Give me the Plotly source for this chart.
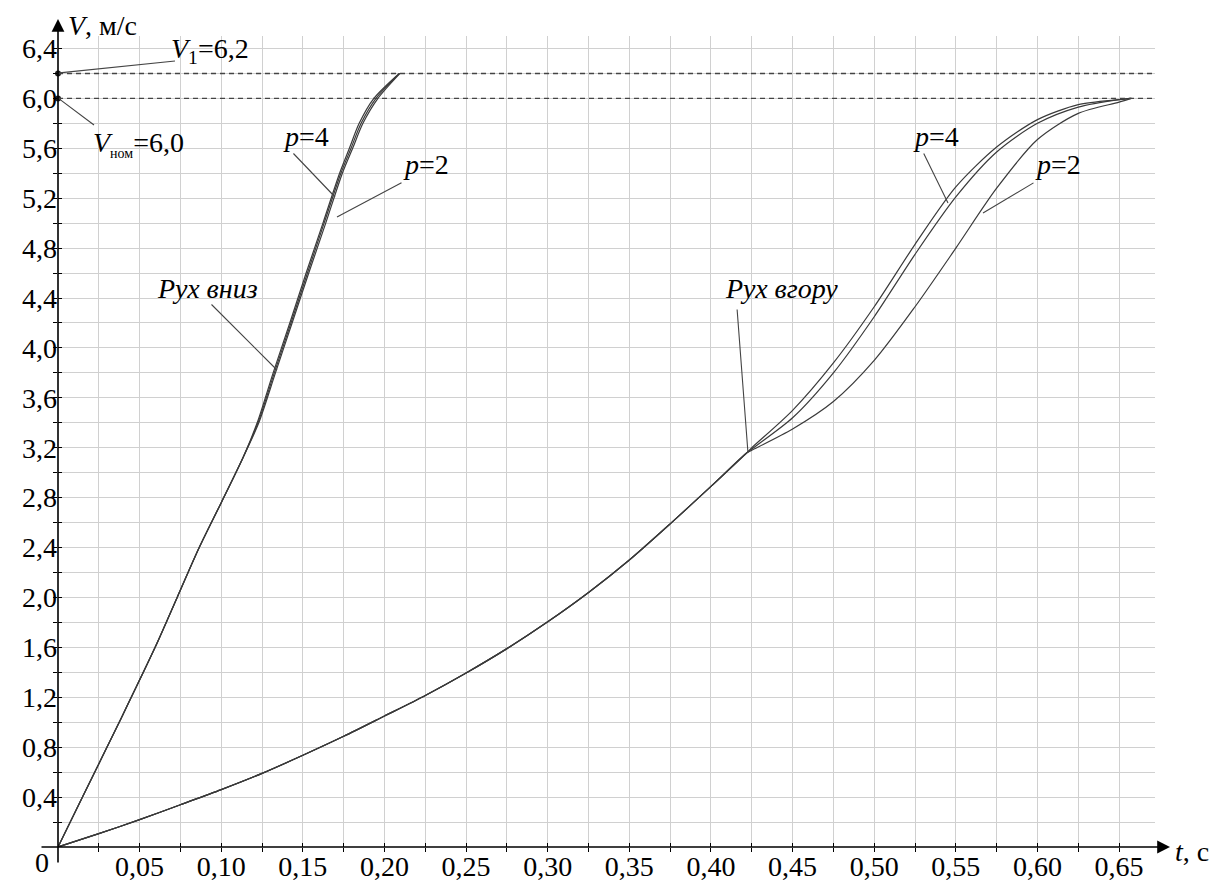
import plotly.graph_objects as go

# ---------------- data ----------------
# "Рух вниз" (downward motion): common lower part
t_down_common = [0, 0.015, 0.0375, 0.0595, 0.073, 0.0865, 0.100, 0.1133]
v_down_common = [0, 0.4, 1.0, 1.6, 2.0, 2.4, 2.76, 3.12]
# upper part, per p
v_down_top = [3.12, 3.4, 3.8, 4.2, 4.6, 5.0, 5.4, 5.6, 5.8, 6.0, 6.2]
t_down_p4 = [0.1133, 0.1220, 0.1318, 0.1420, 0.1520, 0.1623, 0.1725, 0.1785, 0.1845, 0.1935, 0.2090]
t_down_p3 = [0.1133, 0.1225, 0.1325, 0.1427, 0.1528, 0.1630, 0.1733, 0.1795, 0.1857, 0.1948, 0.2092]
t_down_p2 = [0.1133, 0.1230, 0.1332, 0.1434, 0.1536, 0.1640, 0.1742, 0.1805, 0.1868, 0.1960, 0.2095]

# "Рух вгору" (upward motion): common lower part
t_up_common = [0, 0.025, 0.05, 0.075, 0.1, 0.125, 0.15, 0.175, 0.2, 0.225, 0.25, 0.275,
               0.3, 0.325, 0.35, 0.375, 0.4, 0.422]
v_up_common = [0, 0.107, 0.219, 0.339, 0.46, 0.59, 0.735, 0.887, 1.05, 1.215, 1.395, 1.59,
               1.805, 2.04, 2.3, 2.59, 2.89, 3.16]
# branches, per p
t_up_branch = [0.422, 0.425, 0.45, 0.475, 0.5, 0.525, 0.55, 0.575, 0.6, 0.625, 0.65, 0.6575]
v_up_p4 = [3.16, 3.2, 3.50, 3.88, 4.33, 4.83, 5.29, 5.61, 5.83, 5.95, 5.99, 6.0]
v_up_p3 = [3.16, 3.19, 3.44, 3.80, 4.25, 4.75, 5.21, 5.57, 5.80, 5.93, 5.99, 6.0]
v_up_p2 = [3.16, 3.18, 3.35, 3.57, 3.90, 4.33, 4.80, 5.28, 5.67, 5.88, 5.97, 6.0]

V1 = 6.2
V_nom = 6.0

x_tick_vals = [0.025, 0.05, 0.075, 0.10, 0.125, 0.15, 0.175, 0.20, 0.225, 0.25, 0.275, 0.30,
               0.325, 0.35, 0.375, 0.40, 0.425, 0.45, 0.475, 0.50, 0.525, 0.55, 0.575, 0.60,
               0.625, 0.65]
x_tick_text = ["", "0,05", "", "0,10", "", "0,15", "", "0,20", "", "0,25", "", "0,30",
               "", "0,35", "", "0,40", "", "0,45", "", "0,50", "", "0,55", "", "0,60",
               "", "0,65"]
y_tick_vals = [0.2, 0.4, 0.6, 0.8, 1.0, 1.2, 1.4, 1.6, 1.8, 2.0, 2.2, 2.4, 2.6, 2.8, 3.0, 3.2,
               3.4, 3.6, 3.8, 4.0, 4.2, 4.4, 4.6, 4.8, 5.0, 5.2, 5.4, 5.6, 5.8, 6.0, 6.2, 6.4]
y_tick_text = ["", "0,4", "", "0,8", "", "1,2", "", "1,6", "", "2,0", "", "2,4", "", "2,8", "", "3,2",
               "", "3,6", "", "4,0", "", "4,4", "", "4,8", "", "5,2", "", "5,6", "", "6,0", "", "6,4"]

# ---------------- layout geometry ----------------
W, H = 1228, 881
L, R, T, B = 58, 73, 36, 34
PW, PH = W - L - R, H - T - B
FONT = "Liberation Serif, Times New Roman, DejaVu Serif, serif"
LINE = "#3a3a3a"


def px(xp):
    return (xp - L) / PW


def py(yp):
    return (H - B - yp) / PH


fig = go.Figure()

curve_style = dict(color=LINE, width=1.2, shape="spline", smoothing=0.8)

for t_top in (t_down_p4, t_down_p3, t_down_p2):
    fig.add_trace(go.Scatter(x=t_down_common + t_top[1:], y=v_down_common + v_down_top[1:],
                             mode="lines", line=curve_style, hoverinfo="skip", showlegend=False))
for v_br in (v_up_p4, v_up_p3, v_up_p2):
    fig.add_trace(go.Scatter(x=t_up_common + t_up_branch[1:], y=v_up_common + v_br[1:],
                             mode="lines", line=curve_style, hoverinfo="skip", showlegend=False))

# reference speed markers on the V axis
fig.add_trace(go.Scatter(x=[0, 0], y=[V1, V_nom], mode="markers", cliponaxis=False,
                         marker=dict(color="#222", size=6), hoverinfo="skip", showlegend=False))
# dummy trace for the overlaid tick axes
fig.add_trace(go.Scatter(x=[None], y=[None], xaxis="x2", yaxis="y2", showlegend=False,
                         hoverinfo="skip"))

for v in (V1, V_nom):
    fig.add_shape(type="line", xref="paper", yref="y", x0=0, x1=1, y0=v, y1=v,
                  line=dict(color="#444", width=1.4, dash="5px,4px"), layer="above")

tick_font = dict(family=FONT, size=28, color="black")
grid_col = "#d0d0d0"

fig.update_layout(
    width=W, height=H,
    margin=dict(l=L, r=R, t=T, b=B, pad=0, autoexpand=False),
    paper_bgcolor="white", plot_bgcolor="white",
    showlegend=False,
    xaxis=dict(range=[0, 0.672], tickmode="array", tickvals=x_tick_vals, ticktext=x_tick_text,
               showgrid=True, gridcolor=grid_col, gridwidth=1.2, zeroline=False,
               showline=False, ticks="inside", ticklen=4, tickwidth=1.2, tickcolor="black",
               tickfont=tick_font, automargin=False, fixedrange=True),
    yaxis=dict(range=[0, 6.5], tickmode="array", tickvals=y_tick_vals, ticktext=y_tick_text,
               showgrid=True, gridcolor=grid_col, gridwidth=1.2, zeroline=False,
               showline=False, ticks="inside", ticklen=4, tickwidth=1.2, tickcolor="black",
               tickfont=tick_font, automargin=False, fixedrange=True),
    xaxis2=dict(range=[0, 0.672], overlaying="x", anchor="y2", side="bottom", tickmode="array",
                tickvals=x_tick_vals, showticklabels=False, showgrid=False, zeroline=False,
                ticks="outside", ticklen=4, tickwidth=1.2, tickcolor="black", automargin=False,
                fixedrange=True),
    yaxis2=dict(range=[0, 6.5], overlaying="y", anchor="x2", side="left", tickmode="array",
                tickvals=y_tick_vals, showticklabels=False, showgrid=False, zeroline=False,
                ticks="outside", ticklen=4, tickwidth=1.2, tickcolor="black", automargin=False,
                fixedrange=True),
)

ann = []


def text(xp, yp, s, size=28, xanchor="left"):
    ann.append(dict(xref="paper", yref="paper", x=px(xp), y=py(yp), text=s, showarrow=False,
                    xanchor=xanchor, yanchor="middle", borderpad=0,
                    font=dict(family=FONT, size=size, color="black")))


def leader(x0, y0, x1, y1):
    ann.append(dict(xref="paper", yref="paper", x=px(x1), y=py(y1), ax=x0 - x1, ay=y0 - y1,
                    text="", showarrow=True, arrowhead=0, arrowwidth=1.1, arrowcolor="#444",
                    standoff=0, startstandoff=0))


def axis_arrow(x0, y0, x1, y1):
    ann.append(dict(xref="paper", yref="paper", x=px(x1), y=py(y1), ax=x0 - x1, ay=y0 - y1,
                    text="", showarrow=True, arrowhead=2, arrowsize=1.6, arrowwidth=1.6,
                    arrowcolor="black", standoff=0, startstandoff=0))


# axes with arrows
axis_arrow(40, 847, 1170, 847)
axis_arrow(58, 864, 58, 19)

# axis titles and origin
text(67, 26, "<i>V</i>, м/с", size=28)
text(1174, 851, "<i>t</i>, c", size=28)
text(42, 862, "0", size=28, xanchor="center")

# V1 / Vnom callouts
leader(58, 73, 175, 61)
text(170, 50, "<i>V</i><sub>1</sub>=6,2", size=28)
leader(58, 98, 94, 125)
text(92, 144, "<i>V</i><sub><span style='font-size:14px'>ном</span></sub>=6,0", size=28)

# downward motion labels
leader(292, 152, 335, 197)
text(282, 137, "<i>p</i>=4", size=28)
leader(403, 182, 337, 217)
text(402, 165, "<i>p</i>=2", size=28)
leader(210, 303, 277, 370)
text(156, 288, "<i>Рух вниз</i>", size=28)

# upward motion labels
leader(737, 308, 748, 453)
text(724, 288, "<i>Рух вгору</i>", size=28)
leader(923, 152, 948, 203)
text(912, 136, "<i>p</i>=4", size=28)
leader(1035, 182, 983, 213)
text(1034, 164, "<i>p</i>=2", size=28)

fig.update_layout(annotations=ann)

fig.write_html("out.html", config={"displayModeBar": False},
               post_script="document.body.style.margin='0px';")
